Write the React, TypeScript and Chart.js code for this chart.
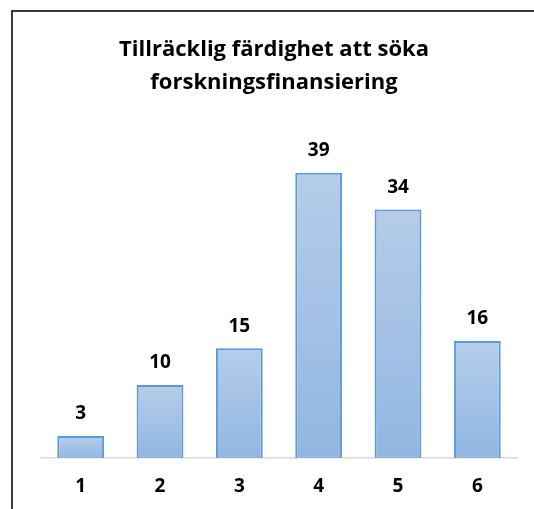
import React, { useEffect, useRef } from "react";
import { Chart, registerables } from "chart.js";

Chart.register(...registerables);

const categories = ["1", "2", "3", "4", "5", "6"];
const values = [3, 10, 15, 39, 34, 16];
const titleLines = ["Tillräcklig färdighet att söka", "forskningsfinansiering"];

const FONT = "'Open Sans', Lato, sans-serif";

const valueLabels = {
  id: "valueLabels",
  afterDatasetsDraw(chart: any) {
    const ctx = chart.ctx;
    const meta = chart.getDatasetMeta(0);
    ctx.save();
    ctx.fillStyle = "#000";
    ctx.font = `bold 19px ${FONT}`;
    ctx.textAlign = "center";
    ctx.textBaseline = "middle";
    meta.data.forEach((el: any, i: number) => {
      ctx.fillText(String(values[i]), el.x, el.y - 22);
    });
    ctx.restore();
  },
};

const chartTitle = {
  id: "chartTitle",
  afterDraw(chart: any) {
    const ctx = chart.ctx;
    ctx.save();
    ctx.fillStyle = "#000";
    ctx.font = `bold 22px ${FONT}`;
    ctx.textAlign = "center";
    ctx.textBaseline = "alphabetic";
    titleLines.forEach((line, i) => {
      ctx.fillText(line, 274, 56 + i * 33);
    });
    ctx.restore();
  },
};

export default function App() {
  const ref = useRef<HTMLCanvasElement | null>(null);
  useEffect(() => {
    if (!ref.current) return;
    const chart = new Chart(ref.current, {
      type: "bar",
      data: {
        labels: categories,
        datasets: [
          {
            data: values,
            backgroundColor: (c: any) => {
              if (c.type !== "data") return "#a6c3e6";
              const ch = c.chart;
              const ys = ch.scales?.y;
              if (!ys) return "#a6c3e6";
              const top = ys.getPixelForValue(c.parsed.y);
              const base = ys.getPixelForValue(0);
              if (!isFinite(top) || !isFinite(base) || top === base) return "#a6c3e6";
              const g = ch.ctx.createLinearGradient(0, top, 0, base);
              g.addColorStop(0, "#b4cdea");
              g.addColorStop(1, "#92b6e1");
              return g;
            },
            borderColor: "#5b9bd5",
            borderWidth: 2,
            categoryPercentage: 1,
            barPercentage: 0.59,
          },
        ],
      },
      options: {
        responsive: false,
        animation: false,
        layout: { padding: { left: 41, right: 17, top: 129, bottom: 11 } },
        plugins: {
          legend: { display: false },
          tooltip: { enabled: false },
          title: { display: false },
        },
        scales: {
          x: {
            grid: { display: false, drawTicks: false },
            border: { display: true, color: "#d9d9d9", width: 1.5 },
            ticks: {
              color: "#000",
              padding: 17,
              font: { family: FONT, size: 19, weight: "bold", lineHeight: 1.2 },
            },
            afterFit: (s: any) => {
              s.height = 40;
            },
          },
          y: {
            display: false,
            min: 0,
            max: 45,
          },
        },
      },
      plugins: [valueLabels, chartTitle],
    });
    return () => chart.destroy();
  }, []);

  return (
    <div style={{ position: "absolute", left: 0, top: 0, width: 534, height: 509, background: "#fff", overflow: "hidden" }}>
      <canvas ref={ref} width={534} height={509} style={{ position: "absolute", left: 0, top: 0, width: 534, height: 509 }} />
      <div
        style={{
          position: "absolute",
          left: 11,
          top: 10,
          width: 600,
          height: 600,
          borderLeft: "2px solid #3a3a3a",
          borderTop: "2px solid #3a3a3a",
          pointerEvents: "none",
        }}
      />
    </div>
  );
}
